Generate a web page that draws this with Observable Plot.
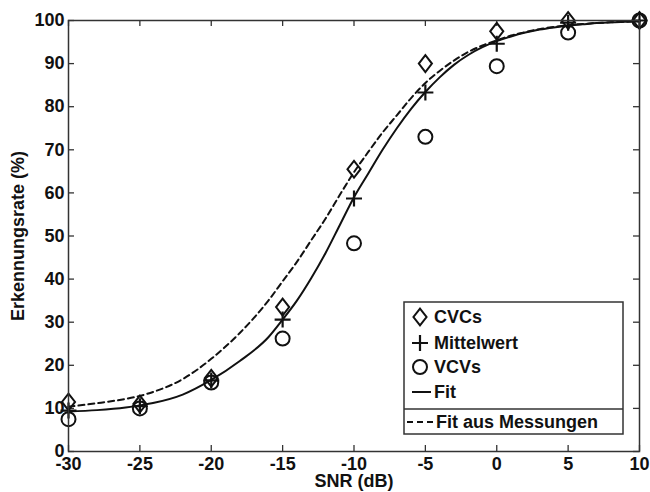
<!DOCTYPE html>
<html>
<head>
<meta charset="utf-8">
<script src="https://cdn.jsdelivr.net/npm/d3@7"></script>
<script src="https://cdn.jsdelivr.net/npm/@observablehq/plot@0.6"></script>
<style>
  html, body { margin: 0; padding: 0; background: #fff; }
  #chart { width: 650px; height: 492px; }
  #chart svg text { font-family: 'Liberation Sans', Arial, sans-serif; font-weight: bold; }
</style>
</head>
<body>
<div id="chart"></div>
<script>
// ---- data ----
const snr = [-30, -25, -20, -15, -10, -5, 0, 5, 10];
const cvcs = [11.5, 11, 17, 33.5, 65.5, 90, 97.5, 100, 100];
const mittelwert = [9.5, 10.5, 16.5, 30.6, 58.7, 83.3, 94.6, 99.5, 100];
const vcvs = [7.5, 10, 16, 26.2, 48.3, 73, 89.4, 97.2, 100];

const fitSnr = [-30, -28, -26, -25, -24, -22, -20, -18, -16, -15, -14, -13, -12, -11, -10, -9, -8, -7, -6, -5, -4, -3, -2, -1, 0, 1, 2, 3, 4, 5, 6, 7, 8, 9, 10];
const fitValues = [9.3, 9.6, 10.2, 10.7, 11.3, 13.2, 16.6, 21, 26.5, 30.6, 35, 40.2, 46, 52.5, 59, 64.5, 70, 75, 79.5, 83.4, 86.8, 89.7, 92, 93.8, 95.2, 96.3, 97.2, 97.9, 98.4, 98.8, 99.1, 99.4, 99.6, 99.7, 99.8];
const fitMessValues = [10.4, 11.2, 12.2, 12.9, 13.9, 16.8, 21.5, 27.5, 35, 39.5, 44, 49, 54, 59.5, 64.8, 69.5, 74, 78, 82, 85.5, 88.3, 90.7, 92.7, 94.2, 95.4, 96.5, 97.3, 98, 98.5, 98.9, 99.2, 99.4, 99.6, 99.7, 99.8];

const xTicks = [-30, -25, -20, -15, -10, -5, 0, 5, 10];
const yTicks = [0, 10, 20, 30, 40, 50, 60, 70, 80, 90, 100];

const seriesNames = ["CVCs", "Mittelwert", "VCVs", "Fit", "Fit aus Messungen"];

// ---- tables ----
const pts = (vals) => snr.map((x, i) => ({x, y: vals[i]}));
const fitLine = fitSnr.map((x, i) => ({x, y: fitValues[i]}));
const fitMessLine = fitSnr.map((x, i) => ({x, y: fitMessValues[i]}));

// ---- custom symbols ----
const diamondSym = {
  draw(ctx, size) {
    const hh = Math.sqrt(size / Math.PI) * 1.05;
    const hw = hh * 0.78;
    ctx.moveTo(0, -hh); ctx.lineTo(hw, 0); ctx.lineTo(0, hh); ctx.lineTo(-hw, 0); ctx.closePath();
  }
};
const plusSym = {
  draw(ctx, size) {
    const a = Math.sqrt(size / Math.PI);
    ctx.moveTo(-a, 0); ctx.lineTo(a, 0); ctx.moveTo(0, -a); ctx.lineTo(0, a);
  }
};

const W = 650, H = 492;
const mL = 68, mR = 11, mT = 20, mB = 41;
const innerW = W - mL - mR, innerH = H - mT - mB;
const tickLen = 6;
const fmt = d => String(d);

const plot = Plot.plot({
  width: W, height: H,
  marginLeft: mL, marginRight: mR, marginTop: mT, marginBottom: mB,
  style: {fontFamily: "'Liberation Sans', Arial, sans-serif", fontWeight: "bold", fontSize: "18px", background: "#fff", color: "#111"},
  x: {domain: [-30, 10]},
  y: {domain: [0, 100]},
  marks: [
    // inward ticks (MATLAB style) on all four sides
    Plot.tickX(xTicks, {x: d => d, insetTop: innerH - tickLen, stroke: "#333", strokeWidth: 1.3}),
    Plot.tickX(xTicks, {x: d => d, insetBottom: innerH - tickLen, stroke: "#333", strokeWidth: 1.3}),
    Plot.tickY(yTicks, {y: d => d, insetRight: innerW - tickLen, stroke: "#333", strokeWidth: 1.3}),
    Plot.tickY(yTicks, {y: d => d, insetLeft: innerW - tickLen, stroke: "#333", strokeWidth: 1.3}),
    Plot.axisX(xTicks, {tickSize: 0, tickPadding: 6, tickFormat: fmt, label: null, fontSize: 18, fill: "#111"}),
    Plot.axisY(yTicks, {tickSize: 0, tickPadding: 4, tickFormat: fmt, label: null, fontSize: 18, fill: "#111"}),
    Plot.text(["SNR (dB)"], {frameAnchor: "bottom", dy: 35, fontSize: 18, fontWeight: "bold", fill: "#111"}),
    Plot.text(["Erkennungsrate (%)"], {frameAnchor: "left", dx: -50, rotate: -90, textAnchor: "middle", fontSize: 18, fontWeight: "bold", fill: "#111"}),
    // fits
    Plot.line(fitMessLine, {x: "x", y: "y", stroke: "#111", strokeWidth: 2, strokeDasharray: "6,4", curve: "monotone-x"}),
    Plot.line(fitLine, {x: "x", y: "y", stroke: "#111", strokeWidth: 2, curve: "monotone-x"}),
    // markers
    Plot.dot(pts(cvcs), {x: "x", y: "y", symbol: diamondSym, r: 8, fill: "none", stroke: "#111", strokeWidth: 2}),
    Plot.dot(pts(mittelwert), {x: "x", y: "y", symbol: plusSym, r: 8, fill: "none", stroke: "#111", strokeWidth: 2.2}),
    Plot.dot(pts(vcvs), {x: "x", y: "y", symbol: "circle", r: 7, fill: "none", stroke: "#111", strokeWidth: 2}),
    Plot.frame({stroke: "#333", strokeWidth: 1.5})
  ]
});

document.getElementById("chart").appendChild(plot);

// ---- legend (drawn into the plot's svg) ----
const svg = d3.select(plot);
const lg = svg.append("g").attr("font-family", "'Liberation Sans', Arial, sans-serif")
  .attr("font-weight", "bold").attr("font-size", 18).attr("fill", "#111").attr("text-anchor", "start");
const bx = 404, by = 302, bw = 219, bh = 132, divY = 409;
lg.append("rect").attr("x", bx).attr("y", by).attr("width", bw).attr("height", bh)
  .attr("fill", "#fff").attr("stroke", "#333").attr("stroke-width", 1.5);
lg.append("line").attr("x1", bx).attr("x2", bx + bw).attr("y1", divY).attr("y2", divY)
  .attr("stroke", "#333").attr("stroke-width", 1.5);

const rowY = [317, 343, 367, 392, 422];
const symX = 420, textX = 434;
lg.append("path").attr("d", d3.symbol(diamondSym, Math.PI * 64)()).attr("transform", `translate(${symX},${rowY[0]})`)
  .attr("fill", "none").attr("stroke", "#111").attr("stroke-width", 2);
lg.append("path").attr("d", d3.symbol(plusSym, Math.PI * 64)()).attr("transform", `translate(${symX},${rowY[1]})`)
  .attr("fill", "none").attr("stroke", "#111").attr("stroke-width", 2.2);
lg.append("circle").attr("cx", symX).attr("cy", rowY[2]).attr("r", 7)
  .attr("fill", "none").attr("stroke", "#111").attr("stroke-width", 2);
lg.append("line").attr("x1", 412).attr("x2", 431).attr("y1", rowY[3]).attr("y2", rowY[3])
  .attr("stroke", "#111").attr("stroke-width", 2);
lg.append("line").attr("x1", 407).attr("x2", 433).attr("y1", rowY[4]).attr("y2", rowY[4])
  .attr("stroke", "#111").attr("stroke-width", 2).attr("stroke-dasharray", "6,4");
seriesNames.forEach((name, i) => {
  lg.append("text").attr("x", i === 4 ? 436 : textX).attr("y", rowY[i]).attr("dy", "0.35em")
    .attr("text-anchor", "start").text(name);
});
</script>
</body>
</html>
